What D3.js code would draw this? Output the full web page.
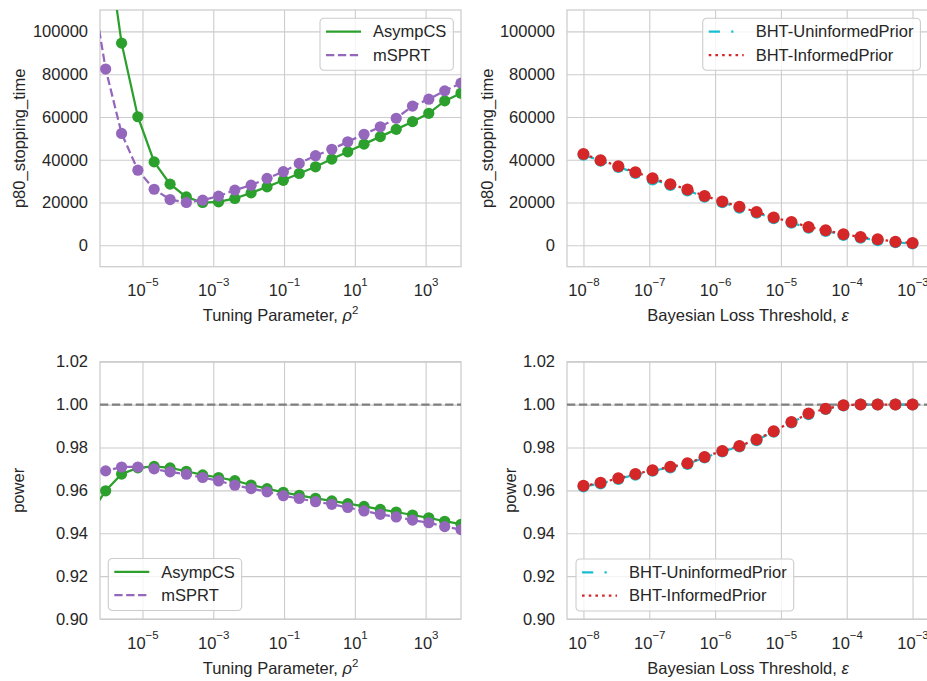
<!DOCTYPE html>
<html>
<head>
<meta charset="utf-8">
<script src="https://cdn.jsdelivr.net/npm/d3@7"></script>
<style>
  body { margin: 0; background: #fff; }
  svg text { font-family: "Liberation Sans", Arial, sans-serif; fill: #262626; }
</style>
</head>
<body>
<svg id="chart" width="927" height="681"></svg>
<script>
// tuning parameter rho^2 (log10 exponents) for the left column
var rho2Exp = [-6.5, -6.04, -5.59, -5.13, -4.67, -4.22, -3.76, -3.30, -2.85, -2.39, -1.93, -1.48,
               -1.02, -0.57, -0.11, 0.35, 0.80, 1.26, 1.72, 2.17, 2.63, 3.09, 3.54, 4.0];
// bayesian loss threshold epsilon (log10 exponents) for the right column
var epsExp = [-8, -7.74, -7.47, -7.21, -6.95, -6.68, -6.42, -6.16, -5.89, -5.63,
              -5.37, -5.11, -4.84, -4.58, -4.32, -4.05, -3.79, -3.53, -3.26, -3];

// p80 stopping time
var stopAsympCS = [260000, 147500, 94500, 60100, 39000, 28600, 22600, 20000, 20300, 21900, 24500, 27300,
                   30400, 33600, 36700, 40300, 43700, 47300, 50800, 54200, 57800, 61700, 67500, 71100];
var stopMSPRT   = [128000, 82400, 52300, 35100, 26200, 21400, 20000, 21100, 23000, 25800, 28100, 31300,
                   34400, 38300, 41900, 44900, 48400, 51900, 55400, 59400, 65100, 68300, 72200, 75800];
var stopBHTUninf = [42300, 39500, 36600, 33800, 30800, 28200, 25600, 22700, 20100, 17500, 15200, 12600,
                    10500, 8200, 6700, 4800, 3500, 2400, 1400, 800];
var stopBHTInf   = [42700, 39800, 37000, 34200, 31300, 28600, 26100, 23100, 20500, 18000, 15600, 13000,
                    10900, 8600, 7000, 5200, 3900, 2800, 1700, 1100];

// power
var powAsympCS = [0.9485, 0.9598, 0.9676, 0.9705, 0.9712, 0.9705, 0.9689, 0.9672, 0.9660, 0.9645, 0.9625, 0.9608,
                  0.9591, 0.9577, 0.9563, 0.9551, 0.9538, 0.9525, 0.9511, 0.9499, 0.9485, 0.9472, 0.9456, 0.9442];
var powMSPRT   = [0.9690, 0.9691, 0.9709, 0.9709, 0.9700, 0.9686, 0.9675, 0.9660, 0.9644, 0.9624, 0.9608, 0.9593,
                  0.9575, 0.9562, 0.9547, 0.9535, 0.9520, 0.9504, 0.9488, 0.9476, 0.9461, 0.9449, 0.9431, 0.9417];
var powBHTUninf = [0.9618, 0.9632, 0.9653, 0.9673, 0.9691, 0.9707, 0.9723, 0.9753, 0.9781, 0.9804,
                   0.9834, 0.9873, 0.9916, 0.9955, 0.9979, 0.9996, 1.0, 1.0, 1.0, 1.0];
var powBHTInf   = [0.9621, 0.9635, 0.9656, 0.9676, 0.9694, 0.9710, 0.9726, 0.9756, 0.9784, 0.9807,
                   0.9837, 0.9876, 0.9919, 0.9958, 0.9981, 0.9997, 1.0, 1.0, 1.0, 1.0];

var stopTicks = [0, 20000, 40000, 60000, 80000, 100000];
var powTicks = [0.90, 0.92, 0.94, 0.96, 0.98, 1.00, 1.02];
var rho2TickExp = [-5, -3, -1, 1, 3];
var epsTickExp = [-8, -7, -6, -5, -4, -3];

var green = "#2ca02c", purple = "#9467bd", cyan = "#17becf", red = "#d62728";
var dashed = "8.3,3.6", dotted = "2.6,4.1", dashdot = "11.25,11.25,2.25,11.25";

var svg = d3.select("#chart");
var fs = 16.5;

function series(exps, vals) {
    return exps.map(function(e, i) { return {x: Math.pow(10, e), y: vals[i]}; });
}

var left = {x0: 100, x1: 461, dom: [Math.pow(10, -6.2), Math.pow(10, 4)], ticks: rho2TickExp,
            label: "Tuning Parameter,  ", sym: "\u03c1", symSup: "2"};
var right = {x0: 567, x1: 929, dom: [Math.pow(10, -8.25), Math.pow(10, -2.75)], ticks: epsTickExp,
             label: "Bayesian Loss Threshold, ", sym: "\u03b5", symSup: ""};
var top_ = {y0: 10, y1: 266.7, dom: [-10000, 110000], ticks: stopTicks, fmt: d3.format("d"), label: "p80_stopping_time"};
var bot = {y0: 361.7, y1: 619, dom: [0.90, 1.02], ticks: powTicks, fmt: d3.format(".2f"), label: "power", ref: 1.0};

var panels = [
    {col: left, row: top_, ylabX: 19, r: 5.6,
     lines: [{d: series(rho2Exp, stopAsympCS), c: green, dash: null, name: "AsympCS"},
             {d: series(rho2Exp, stopMSPRT), c: purple, dash: dashed, name: "mSPRT"}],
     legend: {x: 320, y: 18.3}},
    {col: right, row: top_, ylabX: 487, r: 6,
     lines: [{d: series(epsExp, stopBHTUninf), c: cyan, dash: dashdot, name: "BHT-UninformedPrior"},
             {d: series(epsExp, stopBHTInf), c: red, dash: dotted, name: "BHT-InformedPrior"}],
     legend: {x: 702.7, y: 18.3}},
    {col: left, row: bot, ylabX: 18, r: 5.6,
     lines: [{d: series(rho2Exp, powAsympCS), c: green, dash: null, name: "AsympCS"},
             {d: series(rho2Exp, powMSPRT), c: purple, dash: dashed, name: "mSPRT"}],
     legend: {x: 108.3, y: 558.5}},
    {col: right, row: bot, ylabX: 510, r: 6,
     lines: [{d: series(epsExp, powBHTUninf), c: cyan, dash: dashdot, name: "BHT-UninformedPrior"},
             {d: series(epsExp, powBHTInf), c: red, dash: dotted, name: "BHT-InformedPrior"}],
     legend: {x: 576, y: 559}}
];

panels.forEach(function(p, pi) {
    var x = d3.scaleLog().domain(p.col.dom).range([p.col.x0, p.col.x1]);
    var y = d3.scaleLinear().domain(p.row.dom).range([p.row.y1, p.row.y0]);
    var w = p.col.x1 - p.col.x0, h = p.row.y1 - p.row.y0;
    var g = svg.append("g");

    g.append("clipPath").attr("id", "clip" + pi)
        .append("rect").attr("x", p.col.x0).attr("y", p.row.y0).attr("width", w).attr("height", h);

    // x grid + tick labels
    var xa = g.append("g").attr("transform", "translate(0," + p.row.y1 + ")")
        .call(d3.axisBottom(x).tickValues(p.col.ticks.map(function(e) { return Math.pow(10, e); }))
              .tickSize(-h).tickPadding(18).tickFormat(""));
    xa.select(".domain").remove();
    xa.selectAll(".tick line").attr("stroke", "#cccccc").attr("stroke-width", 1.1);
    xa.selectAll(".tick text").each(function(d) {
        var t = d3.select(this).attr("font-size", fs).attr("font-family", null).attr("fill", "#262626");
        var e = Math.round(Math.log10(d));
        t.append("tspan").text("10");
        t.append("tspan").attr("dy", -10).attr("font-size", 11.5).text(e < 0 ? "\u2212" + (-e) : "" + e);
    });

    // y grid + tick labels
    var ya = g.append("g").attr("transform", "translate(" + p.col.x0 + ",0)")
        .call(d3.axisLeft(y).tickValues(p.row.ticks).tickSize(-w).tickPadding(12).tickFormat(p.row.fmt));
    ya.select(".domain").remove();
    ya.selectAll(".tick line").attr("stroke", "#cccccc").attr("stroke-width", 1.1);
    ya.selectAll(".tick text").attr("font-size", fs).attr("font-family", null).attr("fill", "#262626");

    // spines
    g.append("rect").attr("x", p.col.x0).attr("y", p.row.y0).attr("width", w).attr("height", h)
        .attr("fill", "none").attr("stroke", "#cccccc").attr("stroke-width", 1.25);

    var plot = g.append("g").attr("clip-path", "url(#clip" + pi + ")");

    if (p.row.ref !== undefined) {
        plot.append("line").attr("x1", p.col.x0).attr("x2", p.col.x1)
            .attr("y1", y(p.row.ref)).attr("y2", y(p.row.ref))
            .attr("stroke", "#808080").attr("stroke-width", 2.25).attr("stroke-dasharray", dashed);
    }

    var line = d3.line().x(function(d) { return x(d.x); }).y(function(d) { return y(d.y); });
    p.lines.forEach(function(s) {
        plot.append("path").datum(s.d).attr("d", line).attr("fill", "none")
            .attr("stroke", s.c).attr("stroke-width", 2.25).attr("stroke-dasharray", s.dash);
        plot.selectAll(null).data(s.d).enter().append("circle")
            .attr("cx", function(d) { return x(d.x); }).attr("cy", function(d) { return y(d.y); })
            .attr("r", p.r).attr("fill", s.c);
    });

    // axis labels
    var xl = g.append("text").attr("x", (p.col.x0 + p.col.x1) / 2)
        .attr("y", p.row.y1 + 54.5).attr("text-anchor", "middle").attr("font-size", fs);
    xl.append("tspan").text(p.col.label);
    xl.append("tspan").attr("font-style", "italic").text(p.col.sym);
    if (p.col.symSup) xl.append("tspan").attr("dy", -7).attr("font-size", 11.5).text(p.col.symSup);

    g.append("text").attr("transform", "translate(" + p.ylabX + "," + ((p.row.y0 + p.row.y1) / 2) + ") rotate(-90)")
        .attr("text-anchor", "middle").attr("dy", "0.35em").attr("font-size", fs).text(p.row.label);

    // legend
    var lg = g.append("g").attr("transform", "translate(" + p.legend.x + "," + p.legend.y + ")");
    var box = lg.append("rect").attr("rx", 4).attr("height", 52)
        .attr("fill", "#ffffff").attr("fill-opacity", 0.8).attr("stroke", "#cccccc").attr("stroke-width", 1.1);
    var maxW = 0;
    p.lines.forEach(function(s, i) {
        var ry = 13.4 + i * 23.3;
        lg.append("line").attr("x1", 6).attr("x2", 41).attr("y1", ry).attr("y2", ry)
            .attr("stroke", s.c).attr("stroke-width", 2.25).attr("stroke-dasharray", s.dash);
        var t = lg.append("text").attr("x", 53).attr("y", ry).attr("dy", "0.35em")
            .attr("font-size", fs).text(s.name);
        maxW = Math.max(maxW, t.node().getComputedTextLength());
    });
    box.attr("width", 53 + maxW + 7);
});
</script>
</body>
</html>
